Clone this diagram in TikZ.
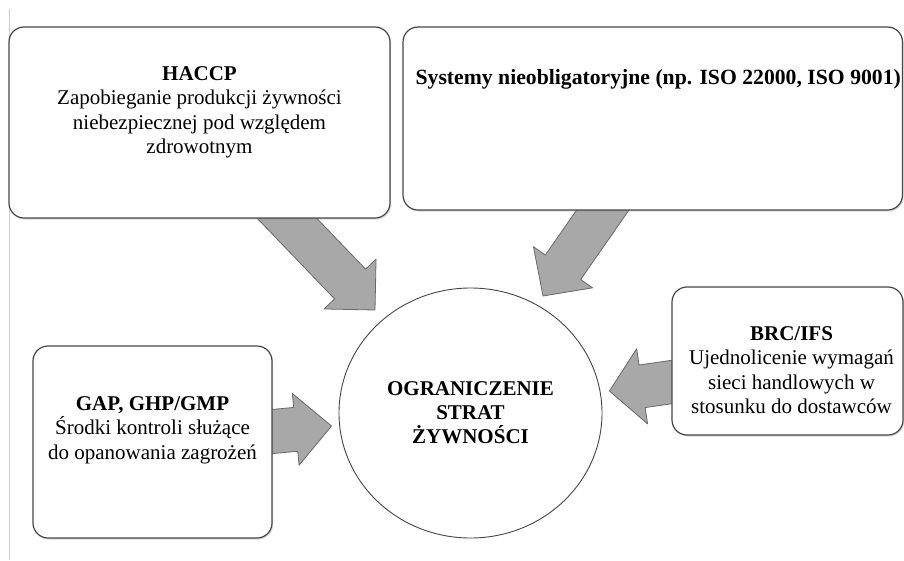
\documentclass[tikz,border=0pt]{standalone}
\usepackage{fontspec}
\setmainfont{Liberation Serif}
\usetikzlibrary{shapes.geometric,calc,shadows}
\pgfdeclarelayer{bg}
\pgfsetlayers{bg,main}
\definecolor{boxline}{RGB}{70,70,70}
\definecolor{arrfill}{RGB}{168,168,168}
\definecolor{arrline}{RGB}{105,105,105}
\definecolor{leftline}{RGB}{205,205,205}
% #1 start, #2 tip, #3 shaft half width, #4 head half width, #5 head length
\newcommand\blockarr[5]{%
  \coordinate (ba-h) at ($(#2)!#5pt!(#1)$);
  \draw[blockarrow] ($(#1)!#3pt!90:(#2)$) -- ($(ba-h)!#3pt!90:(#2)$) -- ($(ba-h)!#4pt!90:(#2)$) -- (#2) -- ($(ba-h)!#4pt!-90:(#2)$) -- ($(ba-h)!#3pt!-90:(#2)$) -- ($(#1)!#3pt!-90:(#2)$) -- cycle;}
\begin{document}
\begin{tikzpicture}[x=1pt,y=-1pt,
  box/.style={draw=boxline, line width=1.2pt, rounded corners=15pt, fill=white, inner sep=0pt,
    drop shadow={shadow xshift=1.2pt, shadow yshift=-1.5pt, opacity=0.3, fill=black!50}},
  txt/.style={align=center, inner sep=0pt, font=\fontsize{21}{24.5}\selectfont},
  blockarrow/.style={fill=arrfill, draw=arrline, line width=0.8pt, line join=round},
  centre/.style={ellipse, draw=boxline, line width=0.9pt, fill=white, inner sep=0pt,
    minimum width=263pt, minimum height=250pt, align=center,
    font=\fontsize{21}{24}\selectfont\bfseries}]
\useasboundingbox (0,0) rectangle (904,560);
\begin{pgfonlayer}{bg}
  \fill[white] (0,0) rectangle (904,560);
  \draw[leftline, line width=1.2pt] (9.5,9) -- (9.5,560);
\end{pgfonlayer}

\node[box, minimum width=381pt, minimum height=191pt] (haccp) at (199.5,122.5) {};
\node[box, minimum width=499.5pt, minimum height=183pt] (sys) at (652.75,118.5) {};
\node[box, minimum width=239pt, minimum height=192pt] (gap) at (152.5,442) {};
\node[box, minimum width=231pt, minimum height=148pt] (brc) at (787.5,361) {};
\node[centre] (circ) at (470.5,413) {OGRANICZENIE\\STRAT\\ŻYWNOŚCI};

\node[txt] (thaccp) at ($(haccp.center)+(0,-10)$) {{\bfseries HACCP}\\Zapobieganie produkcji żywności\\niebezpiecznej pod względem\\zdrowotnym};
\node[txt, font=\fontsize{21.7}{25}\selectfont\bfseries] (tsys) at ($(sys.north)+(5.5,53)$) {Systemy nieobligatoryjne (np. ISO 22000, ISO 9001)};
\node[txt] (tgap) at ($(gap.center)+(0,-12)$) {{\bfseries GAP, GHP/GMP}\\Środki kontroli służące\\do opanowania zagrożeń};
\node[txt] (tbrc) at ($(brc.center)+(4,9)$) {{\bfseries BRC/IFS}\\Ujednolicenie wymagań\\sieci handlowych w\\stosunku do dostawców};

\coordinate (a1s) at ($(haccp.south)+(70.5,-18)$);
\coordinate (a1t) at ($(circ.center)+(-95.5,-103)$);
\coordinate (a2s) at ($(sys.south)+(-35.75,-21)$);
\coordinate (a2t) at ($(circ.center)+(72.5,-117)$);
\coordinate (a3s) at ($(gap.east)+(-32,-7.5)$);
\coordinate (a3t) at ($(circ.west)+(-7,13)$);
\coordinate (a4s) at ($(brc.west)+(28,17)$);
\coordinate (a4t) at ($(circ.east)+(7,-22)$);
\begin{pgfonlayer}{bg}
  \blockarr{a1s}{a1t}{21.5}{36}{36}
  \blockarr{a2s}{a2t}{21.5}{36}{35}
  \blockarr{a3s}{a3t}{22}{36}{36}
  \blockarr{a4s}{a4t}{21.5}{38}{33}
\end{pgfonlayer}
\end{tikzpicture}
\end{document}
